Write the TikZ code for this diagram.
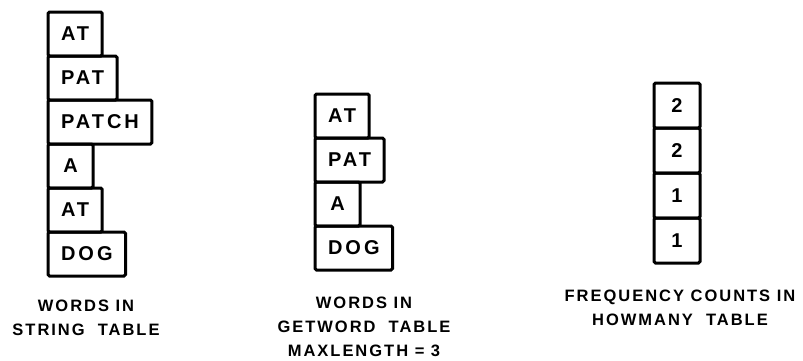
\documentclass[tikz,border=0pt]{standalone}
\usepackage{fontspec}
\setmainfont{Liberation Sans}
\newfontfamily\labelfont[LetterSpace=12.0]{Liberation Sans}
\newfontfamily\boxfont[LetterSpace=15.0]{Liberation Sans}
\usetikzlibrary{positioning}

\begin{document}
\begin{tikzpicture}[
    x=1pt, y=-1pt,
    wordbox/.style={draw, line width=3pt, rounded corners=1.5pt, outer sep=0pt, inner xsep=13pt, minimum width=45pt, minimum height=44pt, font=\boxfont\fontsize{20}{22}\selectfont\bfseries},
    countbox/.style={wordbox, minimum width=46pt, minimum height=45pt, inner xsep=0pt},
    caption/.style={align=center, inner sep=0pt, anchor=north, font=\labelfont\fontsize{16.5}{24}\selectfont\bfseries}
  ]
  \useasboundingbox (0,0) rectangle (803,360);

  % Words in string table
  \node[wordbox, anchor=north west] (str1) at (48,12) {AT};
  \node[wordbox, below right=0pt and 0pt of str1.south west] (str2) {PAT};
  \node[wordbox, below right=0pt and 0pt of str2.south west] (str3) {PATCH};
  \node[wordbox, below right=0pt and 0pt of str3.south west] (str4) {A};
  \node[wordbox, below right=0pt and 0pt of str4.south west] (str5) {AT};
  \node[wordbox, below right=0pt and 0pt of str5.south west] (str6) {DOG};
  \node[caption] (strcap) at (86,300) {WORDS IN\\STRING~~TABLE};

  % Words in getword table
  \node[wordbox, anchor=north west] (get1) at (315,94) {AT};
  \node[wordbox, below right=0pt and 0pt of get1.south west] (get2) {PAT};
  \node[wordbox, below right=0pt and 0pt of get2.south west] (get3) {A};
  \node[wordbox, below right=0pt and 0pt of get3.south west] (get4) {DOG};
  \node[caption] (getcap) at (364,297) {WORDS IN\\GETWORD~~TABLE\\MAXLENGTH = 3};

  % Frequency counts
  \node[countbox, anchor=north west] (how1) at (654,83) {2};
  \node[countbox, below right=0pt and 0pt of how1.south west] (how2) {2};
  \node[countbox, below right=0pt and 0pt of how2.south west] (how3) {1};
  \node[countbox, below right=0pt and 0pt of how3.south west] (how4) {1};
  \node[caption] (howcap) at (680,290) {FREQUENCY COUNTS IN\\HOWMANY~~TABLE};
\end{tikzpicture}
\end{document}
